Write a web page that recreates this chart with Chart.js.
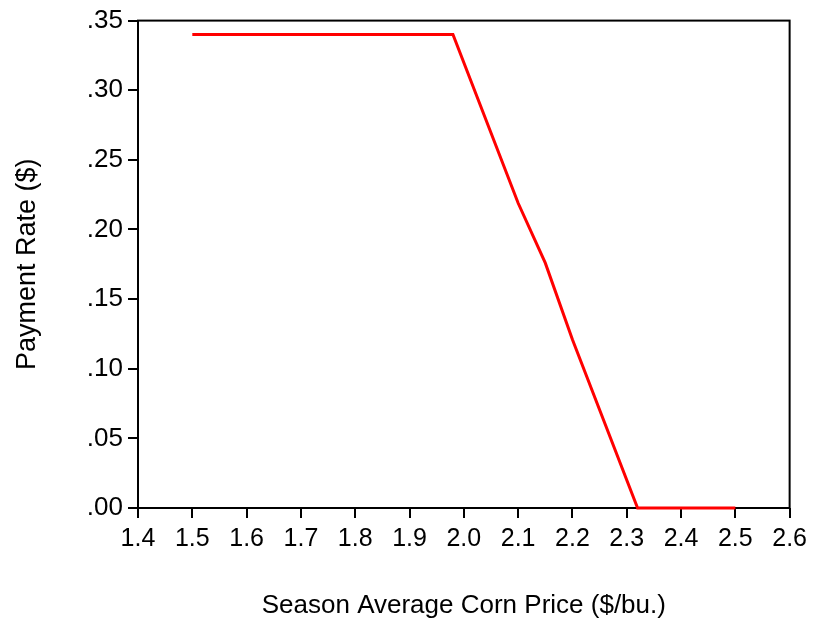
<!DOCTYPE html>
<html>
<head>
<meta charset="utf-8">
<script src="https://cdn.jsdelivr.net/npm/chart.js@4.4.1/dist/chart.umd.min.js"></script>
<style>
  html, body { margin: 0; padding: 0; background: #fff; }
  #wrap { width: 813px; height: 623px; }
</style>
</head>
<body>
<div id="wrap"><canvas id="rateChart"></canvas></div>
<script>
// corn price ($/bu.) and payment rate ($)
const prices = [1.5, 1.98, 2.1, 2.15, 2.2, 2.32, 2.5];
const rates = [0.34, 0.34, 0.219, 0.176, 0.121, 0.0, 0.0];
const xTicks = [1.4, 1.5, 1.6, 1.7, 1.8, 1.9, 2.0, 2.1, 2.2, 2.3, 2.4, 2.5, 2.6];
const yTicks = [0, 0.05, 0.1, 0.15, 0.2, 0.25, 0.3, 0.35];

const FONT = "'Liberation Sans', Arial, sans-serif";

// black frame round the plot area
const frame = {
  id: "frame",
  beforeDatasetsDraw(chart) {
    const { ctx, chartArea: a } = chart;
    ctx.save();
    ctx.strokeStyle = "#000";
    ctx.lineWidth = 2;
    ctx.strokeRect(a.left, a.top, a.right - a.left, a.bottom - a.top);
    ctx.restore();
  },
};

const ctx = document.getElementById("rateChart").getContext("2d");
new Chart(ctx, {
  type: "line",
  data: {
    datasets: [
      {
        data: prices.map((p, i) => ({ x: p, y: rates[i] })),
        borderColor: "#ff0000",
        borderWidth: 3,
        pointRadius: 0,
        tension: 0,
        fill: false,
        clip: false,
      },
    ],
  },
  options: {
    responsive: true,
    maintainAspectRatio: false,
    animation: false,
    layout: { padding: { top: 18, right: 22, left: 0, bottom: 0 } },
    plugins: { legend: { display: false }, tooltip: { enabled: false } },
    scales: {
      x: {
        type: "linear",
        min: 1.4,
        max: 2.6,
        afterBuildTicks: (s) => { s.ticks = xTicks.map((v) => ({ value: v })); },
        afterFit: (s) => { s.height = 115; },
        ticks: {
          color: "#000",
          padding: 6,
          maxRotation: 0,
          autoSkip: false,
          font: { size: 25, family: FONT },
          callback: (v) => v.toFixed(1),
        },
        grid: { drawOnChartArea: false, drawTicks: true, tickLength: 10, color: "#000", lineWidth: 2 },
        border: { display: false },
        title: {
          display: true,
          text: "Season Average Corn Price ($/bu.)",
          color: "#000",
          font: { size: 26, family: FONT },
          padding: { top: 0, bottom: 2 },
        },
      },
      y: {
        min: 0,
        max: 0.35,
        afterBuildTicks: (s) => { s.ticks = yTicks.map((v) => ({ value: v })); },
        afterFit: (s) => { s.width = 138; },
        ticks: {
          color: "#000",
          padding: 5,
          autoSkip: false,
          font: { size: 26, family: FONT },
          callback: (v) => v.toFixed(2).replace(/^0/, ""),
        },
        grid: { drawOnChartArea: false, drawTicks: true, tickLength: 10, color: "#000", lineWidth: 2 },
        border: { display: false },
        title: {
          display: true,
          text: "Payment Rate ($)",
          color: "#000",
          font: { size: 27, family: FONT },
          padding: { top: 11, bottom: 0 },
        },
      },
    },
  },
  plugins: [frame],
});
</script>
</body>
</html>
